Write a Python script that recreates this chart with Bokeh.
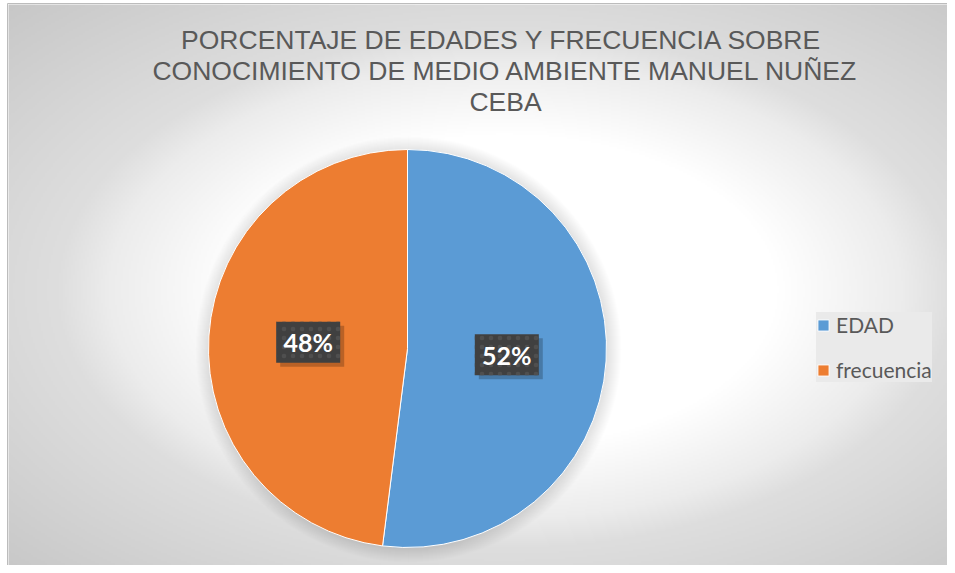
import numpy as np
from bokeh.plotting import figure
from bokeh.models import Range1d, ColumnDataSource, Legend, LegendItem
from bokeh.core.properties import value
from bokeh.embed import file_html
from bokeh.resources import INLINE

# ---- data ----
categories = ["EDAD", "frecuencia"]
values = [52, 48]
colors = ["#5B9BD5", "#ED7D31"]
title_lines = ["PORCENTAJE DE EDADES Y FRECUENCIA  SOBRE",
               "CONOCIMIENTO DE MEDIO AMBIENTE MANUEL NUÑEZ",
               "CEBA"]

# ---- layout (screen-like coordinates) ----
W, H = 947, 565
X0, X1 = 0, W
TOP = H
def sy(y):  # screen y -> data y
    return TOP - y

cx, cy = 407, sy(348)
R = 199

p = figure(width=W, height=H, output_backend="svg", toolbar_location=None,
           x_range=Range1d(X0, X1), y_range=Range1d(0, H),
           min_border=0, match_aspect=False)
p.axis.visible = False
p.grid.visible = False
p.outline_line_color = None
p.background_fill_color = "#ffffff"
p.border_fill_color = "#ffffff"

# ---- radial gradient background ----
nx, ny = 474, 283
xs = np.linspace(X0, X1, nx)
ys_screen = np.linspace(TOP, 0, ny)  # row 0 = bottom
XX, YY = np.meshgrid(xs, ys_screen)
gcx, gcy, gw, gh = 505, 290, 498, 287
d = np.sqrt(((XX - gcx) / gw) ** 2 + ((YY - gcy) / gh) ** 2)
v = np.interp(d, [0, 0.55, 0.8, 0.9, 1.42], [255, 255, 236, 222, 199]).astype(np.uint32)
img = (255 << 24) | (v << 16) | (v << 8) | v
# white page strip outside the chart border
img[:, xs < 7] = 0xFFFFFFFF
img[ys_screen < 3, :] = 0xFFFFFFFF
p.image_rgba(image=[img.astype(np.uint32)], x=X0, y=0, dw=X1 - X0, dh=H)

# chart border
p.line(x=[7, 7, X1 + 5], y=[0, sy(3), sy(3)], line_color="#bcbcbc", line_width=1)

# ---- soft shadow around the pie ----
for k in range(1, 15):
    p.circle(x=cx + 1, y=cy - 1, radius=R + k, fill_color="black", fill_alpha=0.008,
             line_color=None)

# ---- pie ----
total = sum(values)
fr = np.array(values, dtype=float) / total
ends = np.cumsum(fr)
starts = ends - fr
start_ang = np.pi / 2 - 2 * np.pi * starts
end_ang = np.pi / 2 - 2 * np.pi * ends
src = ColumnDataSource(dict(cat=categories, val=values, start=start_ang, end=end_ang,
                            color=colors))
wr = p.wedge(x=cx, y=cy, radius=R, start_angle="start", end_angle="end",
             direction="clock", fill_color="color", line_color="white",
             line_width=1, source=src)

# ---- data labels ----
mid = (start_ang + end_ang) / 2
lx = cx + 0.5 * R * np.cos(mid)
ly = cy + 0.5 * R * np.sin(mid)
labels = [f"{round(f * 100)}%" for f in fr]
lsrc = ColumnDataSource(dict(x=lx, y=ly, t=labels))
p.rect(x=lx + 4, y=ly - 4, width=64, height=41, width_units="screen",
       height_units="screen", fill_color="black", fill_alpha=0.22, line_color=None)
p.rect(x="x", y="y", width=64, height=41, width_units="screen", height_units="screen",
       fill_color="#404040", line_color=None, hatch_pattern="dot",
       hatch_color="#4f4f4f", hatch_scale=9, hatch_weight=1.5, source=lsrc)
p.text(x="x", y="y", text="t", text_align="center", text_baseline="middle",
       text_color="white", text_font=value("Lato"), text_font_style="bold",
       text_font_size="25px", source=lsrc)

# ---- title ----
tsrc = ColumnDataSource(dict(x=[505] * 3, y=[sy(39), sy(70), sy(101)], t=title_lines))
p.text(x="x", y="y", text="t", text_align="center", text_baseline="alphabetic",
       text_color="#595959", text_font=value("Liberation Sans"),
       text_font_size="26.5px", source=tsrc)

# ---- legend ----
legend = Legend(items=[LegendItem(label=categories[i], renderers=[wr], index=i)
                       for i in range(len(categories))],
                location=(816, H - 393 + 11))
legend.glyph_width = 14
legend.glyph_height = 14
legend.label_height = 20
legend.label_standoff = 6
legend.spacing = 20
legend.padding = 13
legend.margin = 0
legend.label_text_font = "Lato"
legend.label_text_font_size = "21px"
legend.label_text_color = "#595959"
legend.background_fill_color = "#eaeaea"
legend.background_fill_alpha = 1.0
legend.border_line_color = None
p.add_layout(legend, "center")

open("out.html", "w").write(file_html(p, INLINE))
